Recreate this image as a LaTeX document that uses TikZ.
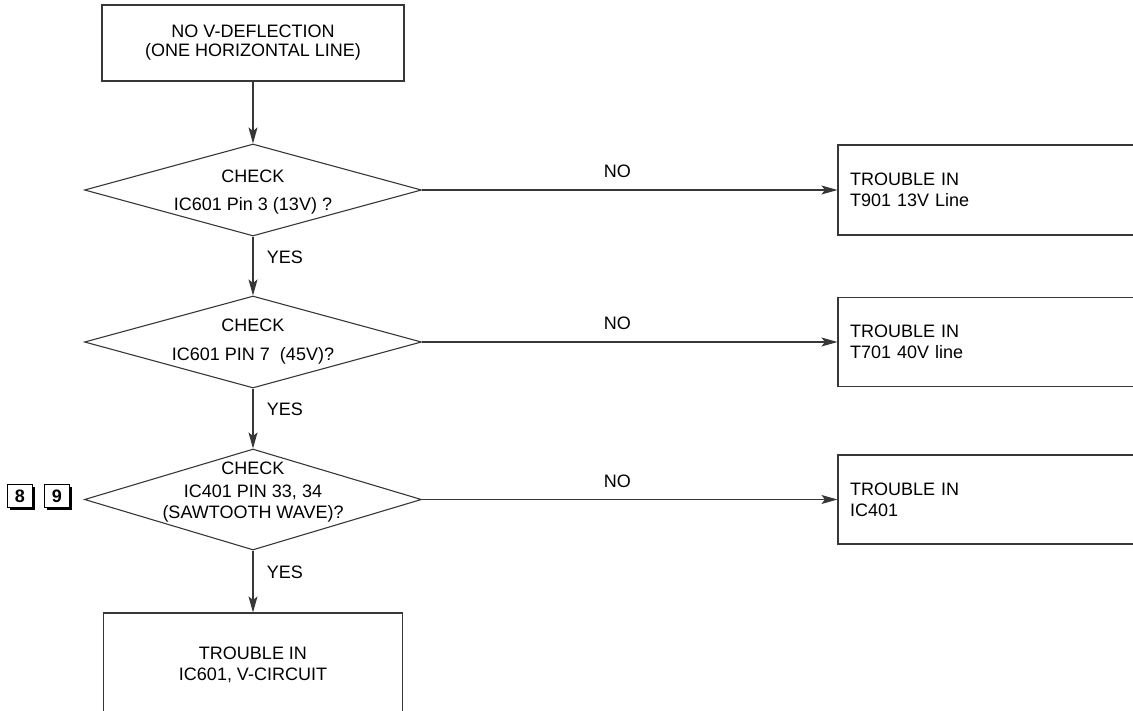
\documentclass[tikz,border=0pt]{standalone}
\usepackage{fontspec}
\setmainfont{Liberation Sans}
\usetikzlibrary{shapes.geometric,arrows.meta,positioning,shadows}
\definecolor{linegray}{RGB}{55,55,55}

\begin{document}
\begin{tikzpicture}[
    x=1pt, y=-1pt,
    font=\fontsize{18}{21}\selectfont,
    process/.style={rectangle, draw=linegray, line width=1.1pt, align=center, inner sep=0pt},
    decision/.style={diamond, draw=linegray, line width=1.1pt, inner sep=0pt, minimum width=337pt},
    trouble/.style={rectangle, draw=linegray, line width=1.1pt, align=left, inner xsep=12pt,
                    text width=283pt, minimum height=89pt},
    pageref/.style={rectangle, draw=black, fill=white, line width=0.9pt, minimum width=25pt,
                    minimum height=23pt, inner sep=0pt, font=\fontsize{18}{18}\selectfont\bfseries,
                    drop shadow={shadow xshift=2.5pt, shadow yshift=-2.5pt, opacity=1, fill=black}},
    arrow/.style={-{Stealth[length=16pt, width=9pt, inset=3.5pt]}, draw=linegray, line width=1.1pt}
]
\useasboundingbox (0,0) rectangle (1133,710);

% Column 1 - main checks
\node[process, minimum width=302pt, minimum height=76pt] (start) at (253,43)
    {NO V-DEFLECTION\\[-2pt](ONE HORIZONTAL LINE)};
\node[decision, minimum height=92pt,
      label={[align=center, yshift=-2pt]center:{CHECK\\[7pt]IC601 Pin 3 (13V) ?}}] (chk13) at (253,190) {};
\node[decision, minimum height=92pt,
      label={[align=center]center:{CHECK\\[8pt]IC601 PIN 7~ (45V)?}}] (chk45) at (253,342) {};
\node[decision, minimum height=101pt,
      label={[align=center, yshift=7pt]center:{CHECK\\[2pt]IC401 PIN 33, 34\\(SAWTOOTH WAVE)?}}] (chksaw) at (253,499.5) {};
\node[process, minimum width=299pt, minimum height=104pt] (vcirc) at (253,665)
    {TROUBLE IN\\IC601, V-CIRCUIT};

% Column 2 - trouble boxes
\node[trouble, minimum height=90pt] (t901) at (991.5,190) {TROUBLE IN\\T901 13V Line};
\node[trouble] (t701) at (991.5,342) {TROUBLE IN\\T701 40V line};
\node[trouble] (ic401) at (991.5,499.5) {TROUBLE IN\\IC401};

% Page references
\node[pageref] (ref8) at (20,496) {8};
\node[pageref] (ref9) at (57,496) {9};

% Arrows with labels
\draw[arrow] (start) -- (chk13);
\draw[arrow] (chk13) -- node[pos=0.35, right=10pt] {YES} (chk45);
\draw[arrow] (chk45) -- node[pos=0.35, right=10pt] {YES} (chksaw);
\draw[arrow] (chksaw) -- node[pos=0.35, right=10pt] {YES} (vcirc);
\draw[arrow] (chk13) -- node[pos=0.47, above=8pt] {NO} (t901);
\draw[arrow] (chk45) -- node[pos=0.47, above=8pt] {NO} (t701);
\draw[arrow] (chksaw) -- node[pos=0.47, above=8pt] {NO} (ic401);

\end{tikzpicture}
\end{document}
